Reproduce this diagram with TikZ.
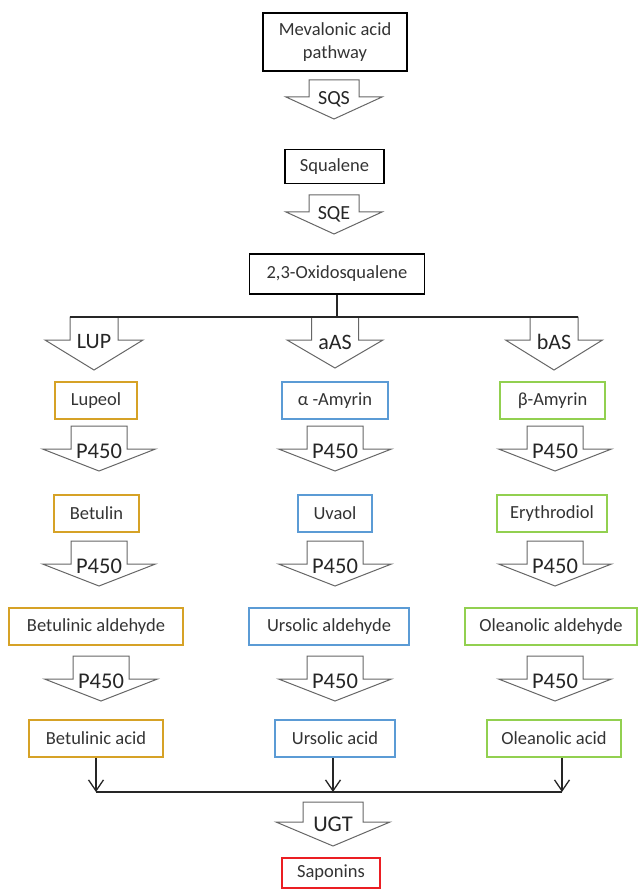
\documentclass[tikz,border=0pt]{standalone}
\usepackage{fontspec}
\setmainfont{Carlito}
\usetikzlibrary{arrows.meta,positioning}
\definecolor{lupcol}{RGB}{214,162,38}
\definecolor{aascol}{RGB}{91,155,213}
\definecolor{bascol}{RGB}{146,208,80}
\definecolor{ugtcol}{RGB}{235,30,35}
\tikzset{box/.style={draw, line width=1.3pt, rectangle, minimum height=37pt, inner sep=2pt, text=black!80, font=\fontsize{18.5}{23}\selectfont, align=center},
  lup/.style={box, draw=lupcol, line width=2.2pt},
  aas/.style={box, draw=aascol, line width=2.2pt},
  bas/.style={box, draw=bascol, line width=2.2pt},
  ugt/.style={box, draw=ugtcol, line width=2.2pt},
  fat/.style={draw=black!60, line width=1pt, fill=white, line join=miter},
  fatlabel/.style={text=black!85, font=\fontsize{22.5}{23}\selectfont, inner sep=0pt},
  conn/.style={draw=black!85, line width=1.3pt},
  pics/fatarrow/.style n args={5}{code={
    \draw[fat] (-#1,0) -- (#1,0) -- (#1,#3) -- (#2,#3) -- (0,#3+#4) -- (-#2,#3) -- (-#1,#3) -- cycle;
    \node[fatlabel] (-label) at (0,#3+2) {#5};
  }}}

\begin{document}
\begin{tikzpicture}[x=1pt, y=-1pt]
    \useasboundingbox (0,0) rectangle (638,890);
    \node[box, minimum width=144pt, minimum height=58pt] (mva) at (335,42) {Mevalonic acid\\pathway};
    \node[box, minimum width=99pt, minimum height=34pt] (squalene) at (334.5,166.5) {Squalene};
    \node[box, minimum width=175pt, minimum height=40pt] (oxido) at (337,274) {2,3-Oxidosqualene};

    \node[lup, minimum width=82pt] (lupeol) at (96,400.5) {Lupeol};
    \node[aas, minimum width=106pt] (aamyrin) at (335,400.5) {α -Amyrin};
    \node[bas, minimum width=105pt] (bamyrin) at (552.5,400.5) {β-Amyrin};
    \node[lup, minimum width=85pt] (betulin) at (96.5,513.5) {Betulin};
    \node[aas, minimum width=74pt] (uvaol) at (335,513.5) {Uvaol};
    \node[bas, minimum width=110pt] (erythrodiol) at (552,513.5) {Erythrodiol};
    \node[lup, minimum width=174pt] (betald) at (96,626.5) {Betulinic aldehyde};
    \node[aas, minimum width=160pt] (ursald) at (329,626.5) {Ursolic aldehyde};
    \node[bas, minimum width=172pt] (oleald) at (551,626.5) {Oleanolic aldehyde};
    \node[lup, minimum width=134pt] (betacid) at (96,738.5) {Betulinic acid};
    \node[aas, minimum width=120pt] (ursacid) at (335,738.5) {Ursolic acid};
    \node[bas, minimum width=134pt] (oleacid) at (554,738.5) {Oleanolic acid};
    \node[ugt, minimum width=98pt, minimum height=30pt] (saponins) at (331,873) {Saponins};

    \pic (sqs) at (334,80) {fatarrow={25}{48}{17}{22}{\fontsize{20}{20}\selectfont SQS}};
    \pic (sqe) at (334,195) {fatarrow={25}{48}{17}{22}{\fontsize{20}{20}\selectfont SQE}};

    \coordinate (splitL) at (70,317);
    \coordinate (splitR) at (578,317);
    \pic (lup) at (94,317) {fatarrow={24}{49}{23}{30}{\fontsize{22}{22}\selectfont LUP}};
    \pic (aas) at (335,317) {fatarrow={23.5}{48}{23}{28}{\fontsize{22}{22}\selectfont aAS}};
    \pic (bas) at (554,317) {fatarrow={24}{48.5}{23}{30}{\fontsize{22}{22}\selectfont bAS}};
    \draw[conn] (oxido) -- (oxido |- splitR);
    \draw[conn] (splitL) -- (splitR);

    \pic (lupA) at (99,426) {fatarrow={28}{56.5}{23}{22}{P450}};
    \pic (lupB) at (99,541) {fatarrow={28}{56.5}{23}{22}{P450}};
    \pic (lupC) at (101,656) {fatarrow={28}{56.5}{23}{22}{P450}};
    \pic (aasA) at (335,426) {fatarrow={28}{56.5}{23}{22}{P450}};
    \pic (aasB) at (335,541) {fatarrow={28}{56.5}{23}{22}{P450}};
    \pic (aasC) at (335,656) {fatarrow={28}{56.5}{23}{22}{P450}};
    \pic (basA) at (555,426) {fatarrow={28}{56.5}{23}{22}{P450}};
    \pic (basB) at (555,541) {fatarrow={28}{56.5}{23}{22}{P450}};
    \pic (basC) at (555,656) {fatarrow={28}{56.5}{23}{22}{P450}};

    \coordinate (joinL) at (96,792);
    \coordinate (joinM) at (333,792);
    \coordinate (joinR) at (562,792);
    \draw[conn, -{Straight Barb[length=11pt,width=15pt]}] (betacid.south) -- (joinL);
    \draw[conn, -{Straight Barb[length=11pt,width=15pt]}] (ursacid.south -| joinM) -- (joinM);
    \draw[conn, -{Straight Barb[length=11pt,width=15pt]}] (oleacid.south -| joinR) -- (joinR);
    \draw[conn] (joinL) -- (joinR);

    \pic (ugt) at (333,802) {fatarrow={30}{57}{20}{24}{UGT}};
\end{tikzpicture}
\end{document}
